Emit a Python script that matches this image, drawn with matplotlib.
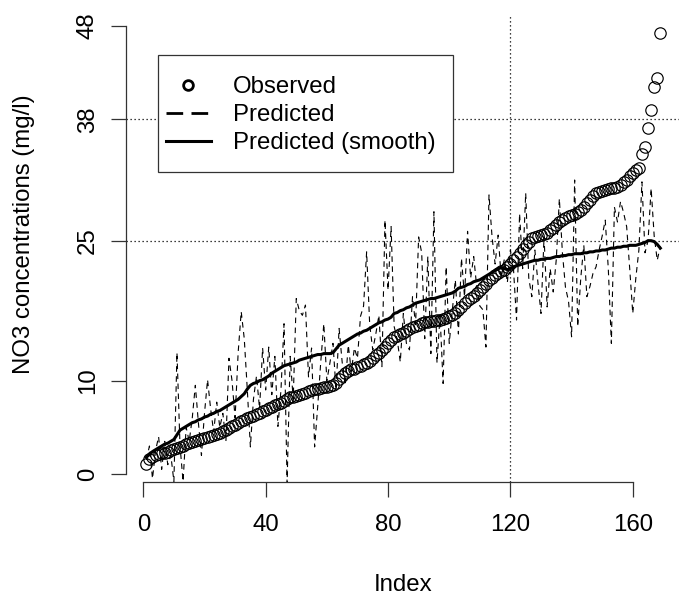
#!/usr/bin/env python3
"""NO3 concentrations: observed (sorted) vs predicted and smoothed prediction."""

import matplotlib
matplotlib.use('Agg')
import matplotlib.pyplot as plt
from matplotlib.lines import Line2D
from matplotlib.patches import Rectangle

plt.rcParams['font.family'] = ['Liberation Sans', 'DejaVu Sans']

# Observed NO3 values (sorted), index 1..169
observed = [
    1.1, 1.6, 1.8, 2.0, 2.1, 2.2, 2.3, 2.4, 2.6, 2.7,
    2.8, 2.9, 3.0, 3.2, 3.3, 3.4, 3.5, 3.6, 3.7, 3.9,
    4.0, 4.1, 4.2, 4.3, 4.4, 4.6, 4.7, 4.9, 5.1, 5.3,
    5.5, 5.7, 5.8, 6.0, 6.1, 6.2, 6.4, 6.5, 6.7, 6.9,
    7.1, 7.2, 7.4, 7.5, 7.6, 7.8, 8.0, 8.2, 8.3, 8.4,
    8.5, 8.6, 8.7, 8.9, 9.0, 9.1, 9.1, 9.2, 9.3, 9.3,
    9.4, 9.5, 9.8, 10.2, 10.5, 10.8, 11.0, 11.2, 11.3, 11.5,
    11.6, 11.8, 11.9, 12.1, 12.4, 12.7, 13.0, 13.3, 13.6, 14.0,
    14.4, 14.7, 14.8, 15.0, 15.1, 15.3, 15.5, 15.7, 15.9, 16.0,
    16.2, 16.3, 16.3, 16.4, 16.4, 16.5, 16.5, 16.6, 16.7, 16.9,
    17.0, 17.2, 17.6, 17.9, 18.3, 18.6, 18.9, 19.1, 19.4, 19.7,
    20.0, 20.4, 20.8, 21.0, 21.3, 21.5, 21.7, 21.9, 22.2, 22.5,
    22.9, 23.3, 23.7, 24.1, 24.5, 24.9, 25.3, 25.4, 25.5, 25.6,
    25.7, 25.8, 26.1, 26.4, 26.7, 27.0, 27.2, 27.4, 27.6, 27.8,
    27.9, 28.1, 28.3, 28.6, 29.0, 29.4, 29.8, 30.1, 30.2, 30.3,
    30.4, 30.5, 30.6, 30.6, 30.8, 31.0, 31.3, 31.5, 31.9, 32.3,
    32.6, 32.8, 34.3, 35.0, 37.1, 39.0, 41.5, 42.4, 47.2,
]

# Raw model predictions for the same samples
predicted = [
    1.5, 3.0, -0.5, 2.5, 4.0, 0.5, 3.5, 1.0, 2.0, -0.8,
    13.0, 3.0, -0.8, 5.0, 3.5, 6.0, 9.5, 5.5, 2.0, 6.5,
    10.1, 7.0, 4.5, 7.7, 5.0, 6.5, 3.5, 12.4, 10.0, 6.0,
    13.0, 17.4, 14.5, 9.0, 2.9, 8.0, 10.5, 7.0, 13.5, 9.0,
    13.6, 8.5, 12.6, 5.1, 9.0, 16.1, -1.0, 12.6, 8.0, 18.8,
    17.5, 17.0, 18.1, 10.4, 13.5, 2.9, 7.2, 12.0, 16.1, 10.0,
    11.9, 14.0, 9.0, 15.6, 12.0, 9.5, 13.8, 11.0, 13.5, 12.4,
    16.9, 18.0, 23.8, 16.0, 13.3, 15.0, 17.0, 11.5, 27.2, 19.7,
    26.5, 15.8, 14.4, 12.0, 17.2, 14.0, 13.3, 19.0, 16.0, 25.4,
    23.7, 14.5, 23.3, 12.9, 28.1, 11.9, 17.0, 9.7, 22.2, 14.0,
    17.5, 20.8, 15.0, 23.1, 19.0, 26.0, 21.0, 23.3, 20.0, 18.0,
    17.6, 13.6, 29.9, 25.4, 22.5, 25.6, 21.0, 23.0, 20.5, 24.0,
    22.0, 16.5, 27.9, 22.0, 30.1, 21.0, 19.0, 24.0, 20.5, 17.2,
    25.4, 17.9, 22.0, 19.5, 23.0, 29.5, 23.7, 20.0, 18.5, 14.7,
    31.5, 15.8, 21.0, 24.5, 19.0, 20.1, 21.5, 22.2, 24.0, 25.5,
    27.2, 22.0, 14.0, 28.6, 27.0, 29.2, 28.0, 26.5, 22.0, 17.2,
    21.0, 24.0, 31.3, 23.7, 25.0, 30.6, 25.5, 22.9, 24.4,
]

# Smoothed predictions
smooth = [
    1.8, 2.1, 2.4, 2.6, 2.8, 3.0, 3.2, 3.3, 3.5, 3.7,
    4.2, 4.7, 4.9, 5.1, 5.3, 5.5, 5.6, 5.8, 5.9, 6.1,
    6.2, 6.4, 6.5, 6.7, 6.8, 7.0, 7.2, 7.4, 7.6, 7.8,
    8.0, 8.3, 8.6, 9.1, 9.5, 9.7, 9.8, 10.0, 10.1, 10.3,
    10.5, 10.8, 11.0, 11.2, 11.4, 11.6, 11.7, 11.8, 11.9, 12.0,
    12.2, 12.3, 12.4, 12.5, 12.6, 12.7, 12.8, 12.8, 12.9, 12.9,
    12.9, 13.0, 13.4, 13.8, 14.0, 14.2, 14.4, 14.6, 14.8, 15.0,
    15.1, 15.3, 15.4, 15.6, 15.8, 16.0, 16.2, 16.3, 16.5, 16.6,
    16.8, 17.2, 17.3, 17.5, 17.6, 17.8, 17.9, 18.1, 18.3, 18.4,
    18.5, 18.6, 18.7, 18.8, 18.8, 18.9, 19.0, 19.1, 19.2, 19.3,
    19.4, 19.6, 19.9, 20.0, 20.1, 20.3, 20.4, 20.6, 20.7, 20.8,
    21.0, 21.2, 21.4, 21.6, 21.8, 22.0, 22.1, 22.0, 21.9, 22.0,
    22.2, 22.3, 22.4, 22.5, 22.6, 22.7, 22.8, 22.9, 22.9, 23.0,
    23.0, 23.1, 23.1, 23.2, 23.3, 23.3, 23.4, 23.4, 23.5, 23.5,
    23.6, 23.6, 23.6, 23.7, 23.7, 23.8, 23.8, 23.9, 23.9, 24.0,
    24.0, 24.1, 24.2, 24.2, 24.3, 24.3, 24.4, 24.4, 24.5, 24.5,
    24.5, 24.6, 24.7, 24.8, 25.0, 25.0, 24.9, 24.6, 24.2,
]

index = list(range(1, len(observed) + 1))

x_ticks = [0, 40, 80, 120, 160]
y_ticks = [0, 10, 25, 38, 48]
h_refs = [38, 25]
v_ref = 120

W, H = 679, 596
fig = plt.figure(figsize=(W / 100, H / 100), dpi=100)
ax = fig.add_axes([126 / W, 1 - 481.7 / H, 554.8 / W, 465.7 / H])

ax.plot(index, observed, 'o', mfc='none', mec='black', ms=8.2, mew=0.85,
        zorder=3)
ax.plot(index, predicted, color='black', lw=0.8, dashes=(5, 4), zorder=2)
ax.plot(index, smooth, color='black', lw=2.2, zorder=4)

for h in h_refs:
    ax.axhline(h, color='black', lw=0.9, dashes=(1, 2.2), zorder=1)
ax.axvline(v_ref, color='black', lw=0.9, dashes=(1, 2.2), zorder=1)

ax.set_xlim(-5.66, 175.7)
ax.set_ylim(-0.825, 49.07)

for side in ['top', 'right']:
    ax.spines[side].set_visible(False)
ax.spines['left'].set_bounds(0, 48)
ax.spines['bottom'].set_bounds(0, 160)
for side in ['left', 'bottom']:
    ax.spines[side].set_color('#333333')
    ax.spines[side].set_linewidth(0.9)

fs = 17.3
ax.set_xticks(x_ticks)
ax.set_xticklabels([str(t) for t in x_ticks], fontsize=fs)
ax.set_yticks(y_ticks)
ax.set_yticklabels([str(t) for t in y_ticks], fontsize=fs, rotation=90,
                   va='center')
ax.tick_params(axis='both', length=10.5, width=0.9, color='#333333')
ax.tick_params(axis='x', pad=13)
ax.tick_params(axis='y', pad=9)

fig.text(24 / W, 1 - 234 / H, 'NO3 concentrations (mg/l)', rotation=90,
         ha='center', va='center', fontsize=fs)
fig.text(403 / W, 1 - 585 / H, 'Index', ha='center', va='center', fontsize=fs)

# legend box (white, covers the reference lines)
box = Rectangle((158.3 / W, 1 - 172.3 / H), 294.4 / W, 117.3 / H,
                transform=fig.transFigure, facecolor='white',
                edgecolor='#333333', lw=0.9, zorder=5)
ax.add_patch(box)
box.set_clip_on(False)

handles = [
    Line2D([], [], ls='none', marker='o', mfc='none', mec='black', ms=7,
           mew=2),
    Line2D([], [], color='black', lw=2, dashes=(6, 3)),
    Line2D([], [], color='black', lw=2.2),
]
labels = ['Observed', 'Predicted', 'Predicted (smooth)']
leg = ax.legend(handles, labels, loc='upper left',
                bbox_to_anchor=(158.3 / W, 1 - 69 / H),
                bbox_transform=fig.transFigure, fontsize=fs, frameon=False,
                borderpad=0.3, handlelength=1.9, handletextpad=0.9,
                labelspacing=0.25, borderaxespad=0)
leg.set_zorder(6)

fig.savefig('out.png', dpi=100)
